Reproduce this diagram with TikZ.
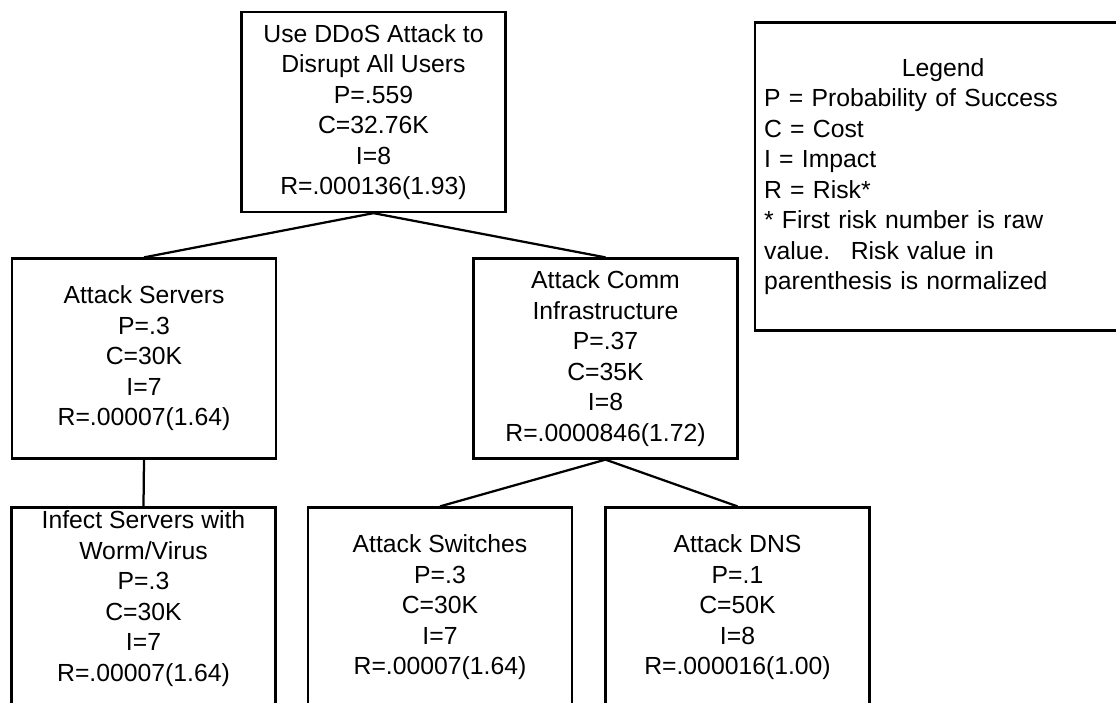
\documentclass[tikz,border=0pt]{standalone}
\usepackage{fontspec}
\setmainfont{Liberation Sans}
\usepackage{tikz}

\begin{document}
\begin{tikzpicture}[x=0.4pt,y=-0.4pt,
	attack/.style={draw, line width=0.9pt, minimum width=105.6pt, minimum height=80pt, inner sep=0pt, align=center, font=\fontsize{9.9}{12.2}\selectfont}]
			\useasboundingbox (0,0) rectangle (1116,702);
			
			\node [attack] (ddos) at (373.5,112) {Use DDoS Attack to\\Disrupt All Users\\P=.559\\C=32.76K\\I=8\\R=.000136(1.93)};
			
			\node [attack] (servers) at (144,358.5) {Attack Servers\\P=.3\\C=30K\\I=7\\R=.00007(1.64)};
			\node [attack] (comm) at (605.5,358.5) {Attack Comm\\Infrastructure\\P=.37\\C=35K\\I=8\\R=.0000846(1.72)};
			
			% text sits higher in this one
			\node [attack] (worm) at (143.5,607.5) {Infect Servers with\\Worm/Virus\\P=.3\\C=30K\\I=7\\R=.00007(1.64)\rule[-9pt]{0pt}{9pt}};
			\node [attack] (switches) at (440,607.5) {Attack Switches\\P=.3\\C=30K\\I=7\\R=.00007(1.64)};
			\node [attack] (dns) at (737.5,607.5) {Attack DNS\\P=.1\\C=50K\\I=8\\R=.000016(1.00)};
			
			\draw [line width=0.9pt] (ddos.south) -- (servers.north);
			\draw [line width=0.9pt] (ddos.south) -- (comm.north);
			\draw [line width=0.9pt] (servers.south) -- (worm.north);
			\draw [line width=0.9pt] (comm.south) -- (switches.north);
			\draw [line width=0.9pt] (comm.south) -- (dns.north);
			
			% legend runs past the right edge
			\node [attack, anchor=west, minimum height=123.2pt, inner xsep=3.6pt, text width=143.2pt, align=left] (legend) at (754,176.5)
				{\makebox[\linewidth]{Legend}\\P = Probability of Success\\C = Cost\\I = Impact\\R = Risk*\\{}* First risk number is raw\\value.~ Risk value in\\parenthesis is normalized};
			\end{tikzpicture}
\end{document}
